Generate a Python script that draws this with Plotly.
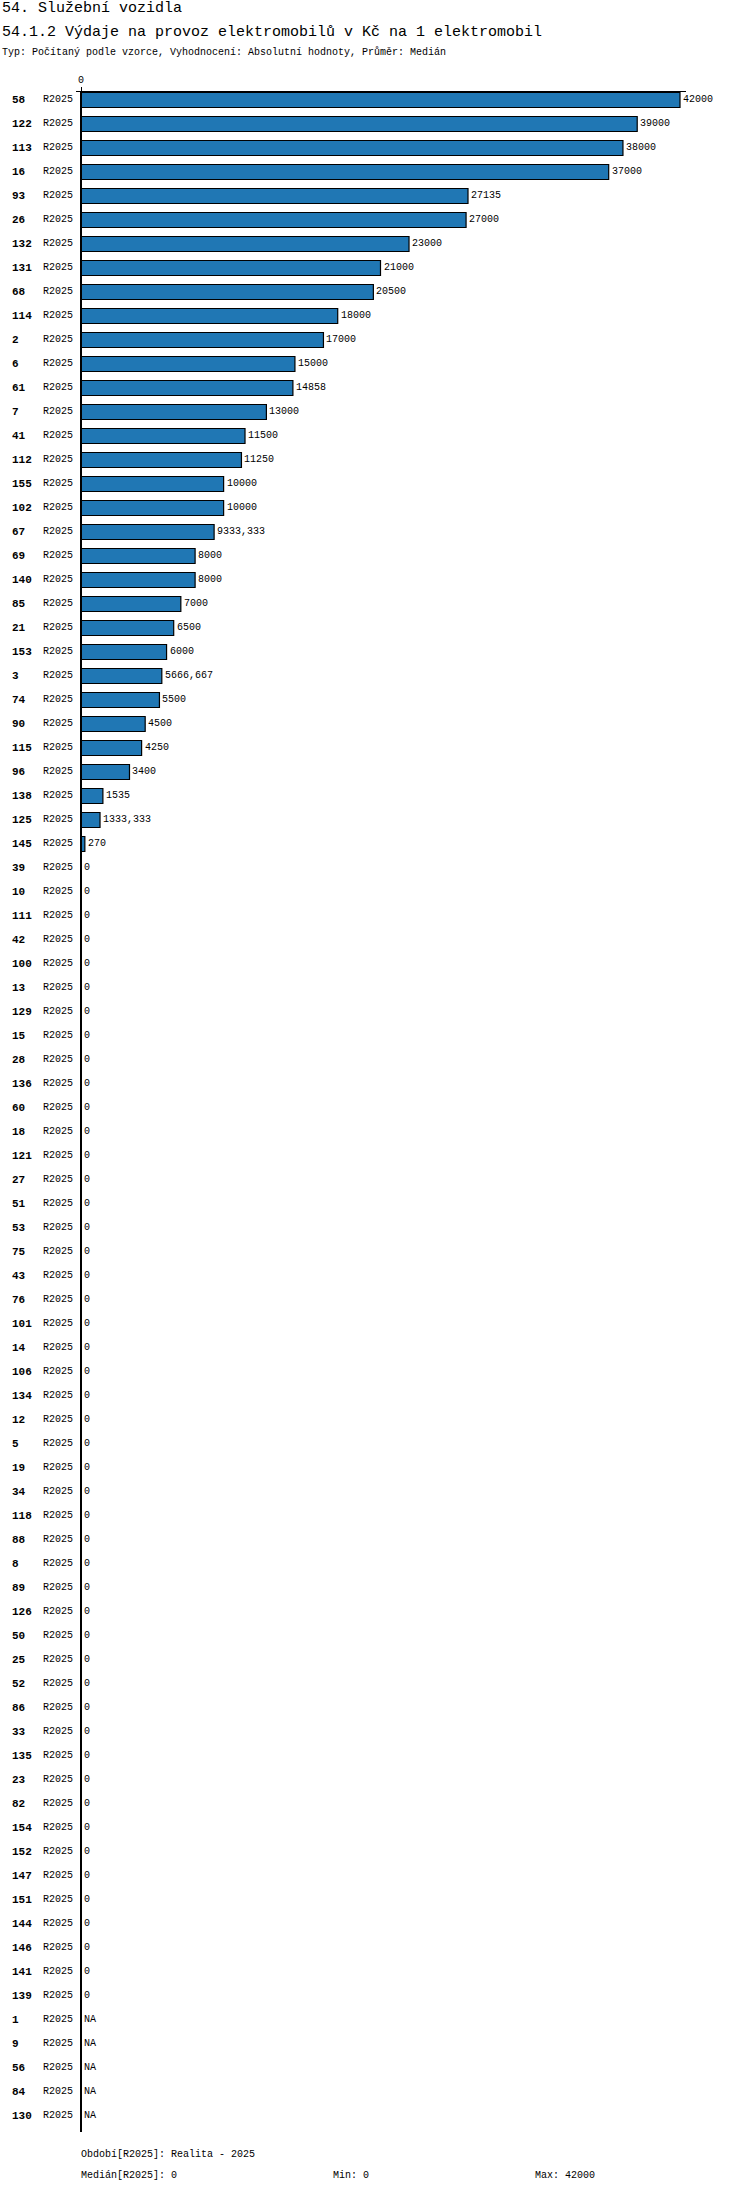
import plotly.graph_objects as go

# data
ids = ['58', '122', '113', '16', '93', '26', '132', '131', '68', '114',
       '2', '6', '61', '7', '41', '112', '155', '102', '67', '69',
       '140', '85', '21', '153', '3', '74', '90', '115', '96', '138',
       '125', '145',
       '39', '10', '111', '42', '100', '13', '129', '15', '28', '136',
       '60', '18', '121', '27', '51', '53', '75', '43', '76', '101',
       '14', '106', '134', '12', '5', '19', '34', '118', '88', '8',
       '89', '126', '50', '25', '52', '86', '33', '135', '23', '82',
       '154', '152', '147', '151', '144', '146', '141', '139',
       '1', '9', '56', '84', '130']
values = [42000, 39000, 38000, 37000, 27135, 27000, 23000, 21000, 20500, 18000,
          17000, 15000, 14858, 13000, 11500, 11250, 10000, 10000, 9333.333, 8000,
          8000, 7000, 6500, 6000, 5666.667, 5500, 4500, 4250, 3400, 1535,
          1333.333, 270] + [0] * 48 + [None] * 5
period = 'R2025'

title1 = '54. Služební vozidla'
title2 = '54.1.2 Výdaje na provoz elektromobilů v Kč na 1 elektromobil'
subtitle = 'Typ: Počítaný podle vzorce, Vyhodnocení: Absolutní hodnoty, Průměr: Medián'
footer_period = 'Období[R2025]: Realita - 2025'
footer_median = 'Medián[R2025]: 0'
footer_min = 'Min: 0'
footer_max = 'Max: 42000'

MONO = 'Liberation Mono'
W, H = 750, 2192
L, R, T, B = 76, 686, 92, 2132   # plot area in pixels
px_per_unit = 599 / 42000


def fmt(v):
    if v is None:
        return 'NA'
    if float(v).is_integer():
        return str(int(v))
    return ('%.3f' % v).replace('.', ',')


fig = go.Figure()
fig.add_trace(go.Bar(
    x=[v if v is not None else 0 for v in values],
    y=ids,
    orientation='h',
    marker=dict(color='#2077b4', line=dict(color='black', width=1.2)),
    hoverinfo='x+y',
))

annotations = []
for i, (cid, v) in enumerate(zip(ids, values)):
    annotations.append(dict(x=(10 - L) / (R - L), xref='paper', y=i, yref='y',
                            text='<b>' + cid + '</b>', showarrow=False, xanchor='left',
                            font=dict(family=MONO, size=11, color='black')))
    annotations.append(dict(x=(75 - L) / (R - L), xref='paper', y=i, yref='y',
                            text=period, showarrow=False, xanchor='right',
                            font=dict(family=MONO, size=10, color='black')))
    annotations.append(dict(x=v if v is not None else 0, xref='x', y=i, yref='y',
                            text=fmt(v), showarrow=False, xanchor='left', xshift=1,
                            font=dict(family=MONO, size=10, color='black')))


def page_text(txt, x, y, size):
    # paper coords are relative to the plot area, so convert from page pixels
    annotations.append(dict(x=(x - L) / (R - L), y=(B - y) / (B - T),
                            xref='paper', yref='paper', text=txt, showarrow=False,
                            xanchor='left', yanchor='middle',
                            font=dict(family=MONO, size=size, color='black')))


layout_texts = [
    (title1, 0, 9, 15), (title2, 0, 32, 15), (subtitle, 0, 52, 10),
    (footer_period, 79, 2154, 10), (footer_median, 79, 2175, 10),
    (footer_min, 331, 2175, 10), (footer_max, 533, 2175, 10),
]
for txt, x, y, size in layout_texts:
    page_text(txt, x, y, size)

fig.update_layout(
    width=W, height=H,
    margin=dict(l=L, r=W - R, t=T, b=H - B, pad=0),
    paper_bgcolor='white', plot_bgcolor='white',
    showlegend=False,
    bargap=0.375,
    xaxis=dict(side='top', range=[-5 / px_per_unit, (R - 81) / px_per_unit],
               showgrid=False, zeroline=False, showline=True, linecolor='black', linewidth=1,
               tickvals=[0], ticktext=['0'], ticks='outside', ticklen=4, tickcolor='black',
               tickfont=dict(family=MONO, size=10, color='black')),
    yaxis=dict(type='category', categoryorder='array', categoryarray=ids,
               range=[len(ids) - 1 + 0.667, -0.333], showgrid=False, zeroline=False,
               showticklabels=False, showline=False),
    shapes=[dict(type='line', xref='x', yref='paper', x0=0, x1=0, y0=0, y1=1,
                 line=dict(color='black', width=2))],
    annotations=annotations,
)

# drop the browser's default body margin so the figure sits at the page corner
fig.write_html('out.html', config={'displayModeBar': False},
               post_script="document.body.style.margin='0';")
